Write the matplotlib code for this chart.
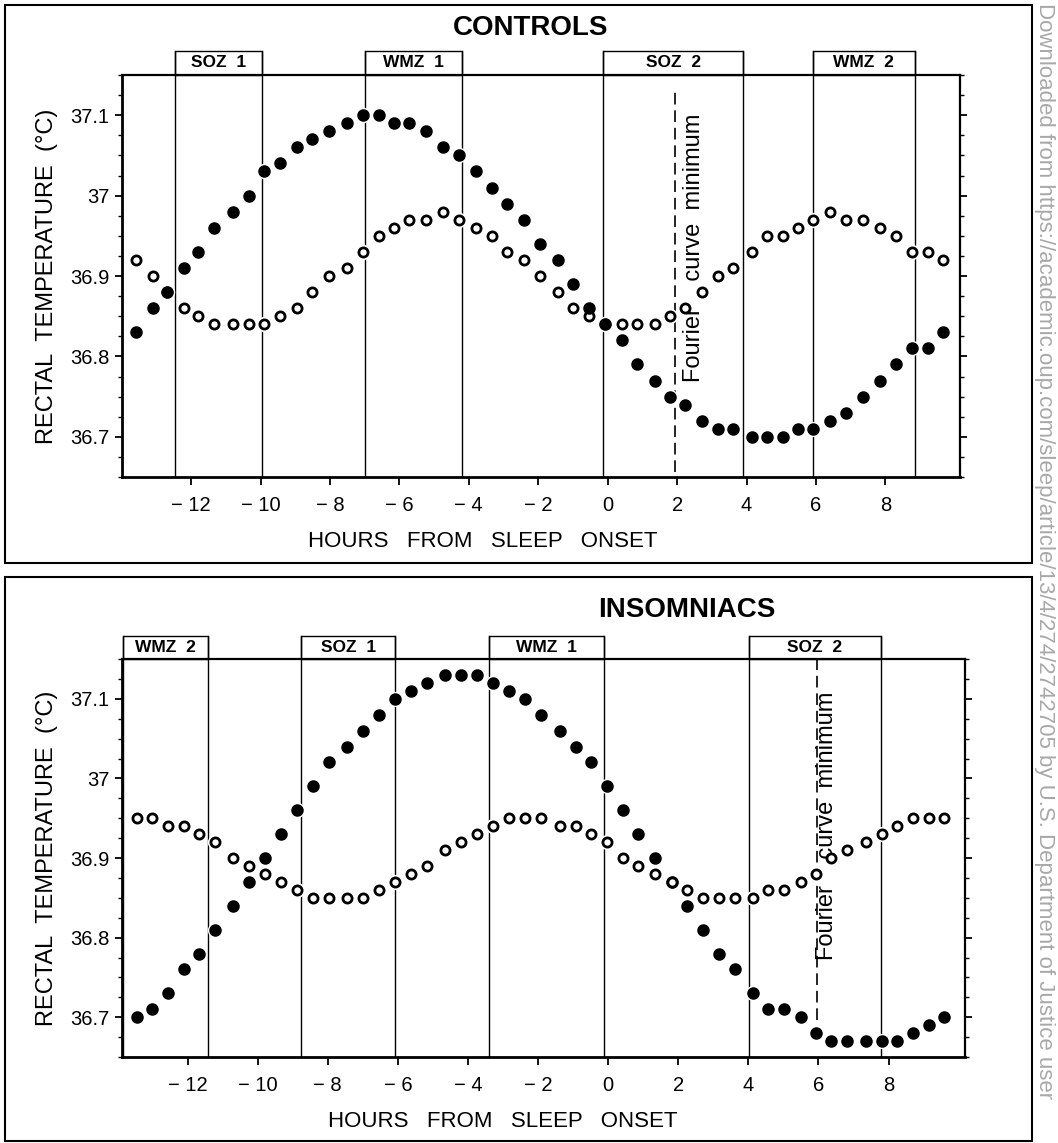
import numpy as np
import matplotlib
matplotlib.use('Agg')
import matplotlib.pyplot as plt
import matplotlib.transforms as mtransforms
from matplotlib.patches import Rectangle

plt.rcParams['font.family'] = ['Liberation Sans', 'DejaVu Sans']

# ---- data (hours from sleep onset, rectal temp in C) ----
ctrl_hours = [-13.58, -13.11, -12.68, -12.20, -11.81, -11.33, -10.80, -10.34, -9.89, -9.43,
              -8.95, -8.51, -8.04, -7.51, -7.05, -6.60, -6.15, -5.71, -5.24, -4.73,
              -4.27, -3.79, -3.34, -2.89, -2.41, -1.95, -1.44, -0.99, -0.53, -0.07,
              0.41, 0.84, 1.35, 1.80, 2.24, 2.71, 3.17, 3.62, 4.15, 4.58,
              5.04, 5.49, 5.92, 6.41, 6.86, 7.36, 7.85, 8.30, 8.78, 9.22, 9.67]
ctrl_filled = [36.83, 36.86, 36.88, 36.91, 36.93, 36.96, 36.98, 37.00, 37.03, 37.04,
               37.06, 37.07, 37.08, 37.09, 37.10, 37.10, 37.09, 37.09, 37.08, 37.06,
               37.05, 37.03, 37.01, 36.99, 36.97, 36.94, 36.92, 36.89, 36.86, 36.84,
               36.82, 36.79, 36.77, 36.75, 36.74, 36.72, 36.71, 36.71, 36.70, 36.70,
               36.70, 36.71, 36.71, 36.72, 36.73, 36.75, 36.77, 36.79, 36.81, 36.81, 36.83]
ctrl_open = [36.92, 36.90, 36.88, 36.86, 36.85, 36.84, 36.84, 36.84, 36.84, 36.85,
             36.86, 36.88, 36.90, 36.91, 36.93, 36.95, 36.96, 36.97, 36.97, 36.98,
             36.97, 36.96, 36.95, 36.93, 36.92, 36.90, 36.88, 36.86, 36.85, 36.84,
             36.84, 36.84, 36.84, 36.85, 36.86, 36.88, 36.90, 36.91, 36.93, 36.95,
             36.95, 36.96, 36.97, 36.98, 36.97, 36.97, 36.96, 36.95, 36.93, 36.93, 36.92]

ins_hours = [-13.45, -13.01, -12.55, -12.09, -11.68, -11.22, -10.70, -10.24, -9.79, -9.34,
             -8.87, -8.41, -7.97, -7.45, -7.00, -6.54, -6.07, -5.63, -5.17, -4.66,
             -4.20, -3.75, -3.28, -2.83, -2.36, -1.92, -1.38, -0.92, -0.49, -0.04,
             0.41, 0.85, 1.34, 1.81, 2.26, 2.70, 3.16, 3.61, 4.12, 4.56,
             5.02, 5.49, 5.93, 6.37, 6.81, 7.35, 7.80, 8.25, 8.70, 9.16, 9.59]
ins_filled = [36.70, 36.71, 36.73, 36.76, 36.78, 36.81, 36.84, 36.87, 36.90, 36.93,
              36.96, 36.99, 37.02, 37.04, 37.06, 37.08, 37.10, 37.11, 37.12, 37.13,
              37.13, 37.13, 37.12, 37.11, 37.10, 37.08, 37.06, 37.04, 37.02, 36.99,
              36.96, 36.93, 36.90, 36.87, 36.84, 36.81, 36.78, 36.76, 36.73, 36.71,
              36.71, 36.70, 36.68, 36.67, 36.67, 36.67, 36.67, 36.67, 36.68, 36.69, 36.70]
ins_open = [36.95, 36.95, 36.94, 36.94, 36.93, 36.92, 36.90, 36.89, 36.88, 36.87,
            36.86, 36.85, 36.85, 36.85, 36.85, 36.86, 36.87, 36.88, 36.89, 36.91,
            36.92, 36.93, 36.94, 36.95, 36.95, 36.95, 36.94, 36.94, 36.93, 36.92,
            36.90, 36.89, 36.88, 36.87, 36.86, 36.85, 36.85, 36.85, 36.85, 36.86,
            36.86, 36.87, 36.88, 36.90, 36.91, 36.92, 36.93, 36.94, 36.95, 36.95, 36.95]

# zones: (label, start hour, end hour)
ctrl_zones = [('SOZ  1', -12.45, -9.95), ('WMZ  1', -6.98, -4.19),
              ('SOZ  2', -0.13, 3.90), ('WMZ  2', 5.91, 8.85)]
ins_zones = [('WMZ  2', -13.85, -11.42), ('SOZ  1', -8.77, -6.07),
             ('WMZ  1', -3.39, -0.13), ('SOZ  2', 4.01, 7.79)]
ctrl_fourier = 1.95
ins_fourier = 5.97

xticks = [-12, -10, -8, -6, -4, -2, 0, 2, 4, 6, 8]
yticks = [36.7, 36.8, 36.9, 37.0, 37.1]
ytick_labels = ['36.7', '36.8', '36.9', '37', '37.1']

W, H = 1058, 1143
fig = plt.figure(figsize=(W / 100, H / 100), dpi=100)
fig.set_facecolor('w')


def px_axes(l, r, t, b):
    return fig.add_axes([l / W, 1 - b / H, (r - l) / W, (b - t) / H])


def panel(ax, hours, filled, opn, zones, fourier, xlim, title, title_xy,
          fourier_xy, fourier_span, open_on_top, box_h, xlabel_x):
    ax.set_xlim(*xlim)
    ax.set_ylim(36.65, 37.15)
    for s in ['left', 'bottom']:
        ax.spines[s].set_linewidth(2.0)
    ax.spines['right'].set_linewidth(1.6)
    ax.spines['top'].set_linewidth(1.6)

    ax.set_xticks(xticks)
    ax.set_xticklabels([str(t).replace('-', '\u2212 ') for t in xticks])
    ax.set_yticks(yticks)
    ax.set_yticklabels(ytick_labels)
    ax.set_yticks(np.arange(36.65, 37.151, 0.025), minor=True)
    ax.tick_params(axis='x', direction='out', length=6, width=1.3,
                   labelsize=14.5, pad=8)
    ax.tick_params(axis='y', which='major', direction='out', length=5,
                   width=1.3, labelsize=14.5, pad=4, right=True)
    ax.tick_params(axis='y', which='minor', direction='out', length=3,
                   width=1.0, right=True)
    ax.set_xlabel('HOURS   FROM   SLEEP   ONSET', fontsize=16)
    ax.xaxis.set_label_coords(xlabel_x, -0.135)
    ax.set_ylabel('RECTAL  TEMPERATURE  (\u00b0C)', fontsize=17, labelpad=9)

    trans = mtransforms.blended_transform_factory(ax.transData, ax.transAxes)
    for name, x0, x1 in zones:
        for xv in (x0, x1):
            ax.plot([xv, xv], [0, 1 + box_h], transform=trans, color='k',
                    lw=1.0, clip_on=False, zorder=1)
        ax.add_patch(Rectangle((x0, 1), x1 - x0, box_h, transform=trans,
                               fill=False, lw=1.0, ec='k', clip_on=False))
        ax.text((x0 + x1) / 2, 1 + box_h / 2, name, transform=trans,
                ha='center', va='center', fontsize=12.5, fontweight='bold')

    ax.plot([fourier, fourier], fourier_span, transform=trans, color='k',
            lw=1.2, dashes=[7, 3.5], zorder=1)
    ax.text(fourier_xy[0], fourier_xy[1], 'Fourier    curve  minimum',
            rotation=90, ha='center', va='center', fontsize=17)

    # white halo under markers so zone lines break around points
    ax.plot(hours, filled, 'o', ms=10, mfc='w', mec='w', zorder=2)
    ax.plot(hours, opn, 'o', ms=10, mfc='w', mec='w', zorder=2)
    zf, zo = (3, 4) if open_on_top else (4, 3)
    ax.plot(hours, filled, 'o', ms=8.0, mfc='k', mec='k', zorder=zf)
    ax.plot(hours, opn, 'o', ms=6.6, mfc='w', mec='k', mew=2.0, zorder=zo)

    fig.text(title_xy[0] / W, 1 - title_xy[1] / H, title, ha='center',
             va='center', fontsize=20, fontweight='bold')


# outer frames of the two panels
fig.patches.append(Rectangle((5 / W, 1 - 563 / H), 1027 / W, 558 / H,
                             transform=fig.transFigure, fill=False, lw=1.5,
                             ec='k'))
fig.patches.append(Rectangle((5 / W, 1 - 1141 / H), 1027 / W, 564 / H,
                             transform=fig.transFigure, fill=False, lw=1.5,
                             ec='k'))

ax1 = px_axes(122, 960, 75, 477)
panel(ax1, ctrl_hours, ctrl_filled, ctrl_open, ctrl_zones, ctrl_fourier,
      (-13.99, 10.15), 'CONTROLS', (531, 28), (2.5, 36.935), (0.012, 0.963),
      False, 0.06, 0.43)

ax2 = px_axes(122, 965, 659, 1057)
panel(ax2, ins_hours, ins_filled, ins_open, ins_zones, ins_fourier,
      (-13.87, 10.18), 'INSOMNIACS', (687, 610), (6.25, 36.94), (0.093, 0.997),
      True, 0.058, 0.452)

fig.text(1044 / W, 1 - 3 / H,
         'Downloaded from https://academic.oup.com/sleep/article/13/4/274/2742705'
         ' by U.S. Department of Justice user',
         rotation=-90, ha='center', va='top', fontsize=16.0, color='#a8a8a8')

fig.savefig('out.png', dpi=100, facecolor='w')
